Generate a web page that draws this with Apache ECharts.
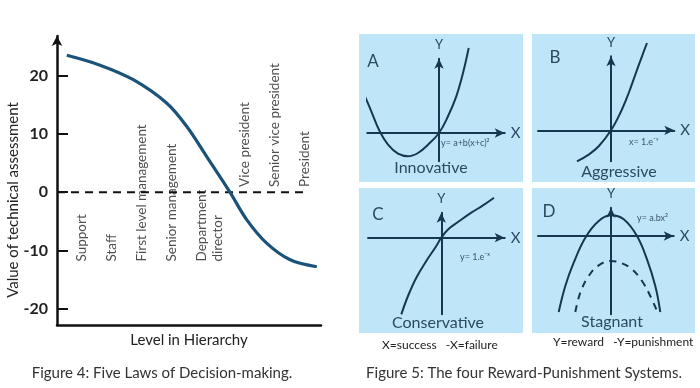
<!DOCTYPE html>
<html>
<head>
<meta charset="utf-8">
<script src="https://cdn.jsdelivr.net/npm/echarts@6/dist/echarts.min.js"></script>
<style>html,body{margin:0;padding:0;background:#fff}#c{width:700px;height:388px}</style>
</head>
<body>
<div id="c"></div>
<script>
// ---------- Figure 4 data ----------
const hierX = [3.7, 16.3, 28.9, 41.5, 49.1, 56.7, 65.5, 71.9, 79.4, 88.3, 98.4];
const techValue = [23.5, 21.8, 19.3, 15.3, 11.3, 6.1, 0, -4.75, -8.75, -11.6, -12.8];
const zeroLineX = [0, 95];
const levels = ['Support', 'Staff', 'First level management', 'Senior management', 'Department\ndirector', 'Vice president', 'Senior vice president', 'President'];
const levelX = [9.5, 20.8, 32.2, 43.6, 58, 71.2, 82.6, 93.9];
const levelBase = [-11.9, -11.9, -11.9, -11.9, -11.9, 0.9, 0.9, 0.9];
const yTicks = [-20, -10, 0, 10, 20];

// ---------- Figure 5 data (four panels) ----------
const innovX = [-75, -67.7, -59.3, -51, -41, -31, -21, -11, 0, 9, 17.3, 24, 29.7];
const innovY = [39, 21.7, 1.7, -11.7, -20.7, -23.3, -20, -11.7, 0, 16.7, 36.7, 60, 85];
const aggrX = [-34, -22.3, -12.3, 0, 9.3, 17.7, 24.3, 31, 36];
const aggrY = [-31, -24.3, -16, 0, 17.3, 37.3, 55.7, 74, 87.3];
const consX = [-40, -33.3, -25, -15, -5, 0, 6.7, 16.7, 30, 41.7, 52.7];
const consY = [-76.7, -58.3, -40, -23.3, -8.3, 0, 8.3, 15.7, 25, 32.3, 40];
const stagX = [-52.3, -45.7, -37.3, -25.7, -12.3, 0, 12.7, 26, 36, 44.3, 49.3];
const stagY = [-76, -50, -26.7, -1.7, 15, 20.7, 16.7, 0, -23.3, -50, -76];
const stagDashX = [-35.7, -30.7, -22.3, -12.3, 0, 11, 21, 31, 39.3, 46];
const stagDashY = [-76, -56.7, -40, -29.3, -25, -27.3, -33.3, -45, -60, -75];

const panelLetters = ['A', 'B', 'C', 'D'];
const panelNames = ['Innovative', 'Aggressive', 'Conservative', 'Stagnant'];
const panelEq = ['y= a+b(x+c)\u00B2', 'x= 1.e\u207B\u02B8', 'y= 1.e\u207B\u02E3', 'y= a.bx\u00B2'];
const captions = ['Figure 4: Five Laws of Decision-making.', 'Figure 5: The four Reward-Punishment Systems.'];
const axisNotes = ['X=success   -X=failure', 'Y=reward   -Y=punishment'];

const zip = (a, b) => a.map((v, i) => [v, b[i]]);
const INK = '#17364f';
const TXT = '#2b4a60';
const FONT = 'Lato, "Open Sans", sans-serif';

const chart = echarts.init(document.getElementById('c'));

// panel layouts (px) and axis ranges
const panels = [
  {left: 367.3, top: 58.7, width: 137.4, height: 102.6, xmin: -71.7, xmax: 65.7, ymin: -28.3, ymax: 74.3},
  {left: 538,   top: 56.3, width: 136.3, height: 105,   xmin: -73,   xmax: 63.3, ymin: -31,   ymax: 74},
  {left: 368,   top: 212.7, width: 136.7, height: 101.6, xmin: -73.3, xmax: 63.4, ymin: -76.6, ymax: 25},
  {left: 538,   top: 207.7, width: 135.7, height: 106.6, xmin: -73,  xmax: 62.7, ymin: -78.3, ymax: 28.3}
];
const bgRects = [
  [359, 34, 164, 148], [532, 34, 163, 148], [359, 188, 164, 145], [532, 188, 163, 145]
];

const grids = [{left: 57, top: 36, width: 264, height: 289}];
const xAxes = [{
  gridIndex: 0, type: 'value', min: 0, max: 100,
  axisLine: {onZero: false, lineStyle: {color: '#111', width: 2.5}},
  axisTick: {show: false}, axisLabel: {show: false}, splitLine: {show: false},
  name: 'Level in Hierarchy', nameLocation: 'middle', nameGap: 8,
  nameTextStyle: {fontFamily: FONT, fontSize: 15, color: '#222', verticalAlign: 'top'}
}];
const yAxes = [{
  gridIndex: 0, type: 'value', min: -22.8, max: 26.8,
  axisLine: {onZero: false, lineStyle: {color: '#111', width: 2.5}, symbol: ['none', 'arrow'], symbolSize: [8, 10]},
  axisTick: {inside: true, length: 11, lineStyle: {color: '#111', width: 2}, customValues: yTicks},
  axisLabel: {customValues: yTicks, fontFamily: FONT, fontSize: 16, fontWeight: 'bold', color: '#222', margin: 9},
  splitLine: {show: false}
}];

panels.forEach((p, i) => {
  grids.push({left: p.left, top: p.top, width: p.width, height: p.height});
  xAxes.push({
    gridIndex: i + 1, type: 'value', min: p.xmin, max: p.xmax,
    axisLine: {onZero: true, lineStyle: {color: INK, width: 2}, symbol: ['none', 'arrow'], symbolSize: [7, 10]},
    axisTick: {show: false}, axisLabel: {show: false}, splitLine: {show: false},
    name: 'X', nameLocation: 'end', nameGap: 6,
    nameTextStyle: {fontFamily: FONT, fontSize: 15, color: TXT, verticalAlign: 'middle'}
  });
  yAxes.push({
    gridIndex: i + 1, type: 'value', min: p.ymin, max: p.ymax,
    axisLine: {onZero: true, lineStyle: {color: INK, width: 2}, symbol: ['none', 'arrow'], symbolSize: [7, 10]},
    axisTick: {show: false}, axisLabel: {show: false}, splitLine: {show: false},
    name: 'Y', nameLocation: 'end', nameGap: 7,
    nameTextStyle: {fontFamily: FONT, fontSize: 13, color: TXT}
  });
});

const curve = (idx, data, dashed) => ({
  type: 'line', xAxisIndex: idx, yAxisIndex: idx, data: data, smooth: 0.4,
  showSymbol: false, symbol: 'none', clip: false, silent: true,
  lineStyle: {color: INK, width: 2, type: dashed ? [7, 6] : 'solid'}
});

const series = [
  {
    type: 'line', xAxisIndex: 0, yAxisIndex: 0, data: zip(zeroLineX, [0, 0]),
    symbol: 'none', silent: true, lineStyle: {color: '#111', width: 2, type: [8, 6]}
  },
  {
    type: 'line', xAxisIndex: 0, yAxisIndex: 0, data: zip(hierX, techValue), smooth: 0.35,
    symbol: 'none', silent: true, lineStyle: {color: '#1b5279', width: 3.2}
  },
  {
    type: 'scatter', xAxisIndex: 0, yAxisIndex: 0, symbolSize: 0, silent: true,
    data: levels.map((n, i) => ({name: n, value: [levelX[i], levelBase[i]]})),
    label: {
      show: true, position: [0, 0], rotate: 90, align: 'left', verticalAlign: 'middle',
      formatter: p => p.name, fontFamily: FONT, fontSize: 13.5, color: '#222', lineHeight: 16
    }
  },
  curve(1, zip(innovX, innovY)),
  curve(2, zip(aggrX, aggrY)),
  curve(3, zip(consX, consY)),
  curve(4, zip(stagX, stagY)),
  curve(4, zip(stagDashX, stagDashY), true)
];

const graphic = [];
bgRects.forEach(r => graphic.push({type: 'rect', z: -10, shape: {x: r[0], y: r[1], width: r[2], height: r[3]}, style: {fill: '#bfe6f8'}}));
const letterPos = [[373, 62], [555, 58], [378, 215], [549, 212]];
const namePos = [[431, 168], [619, 172], [438, 322.5], [612, 322]];
const eqPos = [[441, 143], [629, 142], [460, 257], [637, 218]];
panelLetters.forEach((t, i) => {
  graphic.push({type: 'text', x: letterPos[i][0], y: letterPos[i][1], style: {text: t, fill: TXT, font: '17px ' + FONT, textAlign: 'center', textVerticalAlign: 'middle'}});
  graphic.push({type: 'text', x: namePos[i][0], y: namePos[i][1], style: {text: panelNames[i], fill: TXT, font: '16px ' + FONT, textAlign: 'center', textVerticalAlign: 'middle'}});
  graphic.push({type: 'text', x: eqPos[i][0], y: eqPos[i][1], style: {text: panelEq[i], fill: '#3a5569', font: '9px ' + FONT, textAlign: 'left', textVerticalAlign: 'middle'}});
});
graphic.push({type: 'text', x: 382, y: 345, style: {text: axisNotes[0], fill: '#222', font: '12px ' + FONT, textAlign: 'left', textVerticalAlign: 'middle'}});
graphic.push({type: 'text', x: 553, y: 342, style: {text: axisNotes[1], fill: '#222', font: '12px ' + FONT, textAlign: 'left', textVerticalAlign: 'middle'}});
graphic.push({type: 'text', x: 162, y: 373, style: {text: captions[0], fill: '#333', font: '15px ' + FONT, textAlign: 'center', textVerticalAlign: 'middle'}});
graphic.push({type: 'text', x: 524, y: 373, style: {text: captions[1], fill: '#333', font: '15px ' + FONT, textAlign: 'center', textVerticalAlign: 'middle'}});
graphic.push({type: 'text', x: 13, y: 200, rotation: Math.PI / 2, style: {text: 'Value of technical assessment', fill: '#222', font: '15px ' + FONT, textAlign: 'center', textVerticalAlign: 'middle'}});

chart.setOption({
  animation: false,
  backgroundColor: '#fff',
  grid: grids, xAxis: xAxes, yAxis: yAxes, series: series, graphic: graphic
});
</script>
</body>
</html>
